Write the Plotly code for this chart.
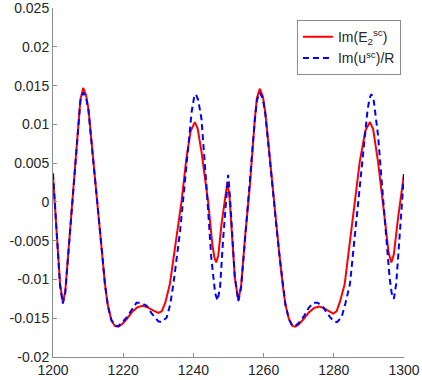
"""Im(E2^sc) versus Im(u^sc)/R over positions 1200-1300."""

import plotly.graph_objects as go

# Im(E_2^sc)
red_x = [
    1200, 1201, 1202, 1202.8, 1203.5, 1204.4, 1205.8, 1207.2, 1207.8, 1208.6,
    1209.4, 1210.1, 1211, 1212, 1213, 1214, 1214.8, 1215.6, 1216.6, 1217.6,
    1218.6, 1219.6, 1221, 1222.5, 1224, 1225.5, 1227, 1228.5, 1230, 1231,
    1232, 1233.3, 1235.2, 1236.6, 1238, 1239.2, 1240.4, 1241.2, 1242.3, 1244.2,
    1245.4, 1246, 1246.5, 1247.1, 1248, 1249, 1249.7, 1250.3, 1251.8, 1252.8,
    1253.6, 1254.7, 1256.1, 1257.5, 1258.1, 1258.9, 1259.8, 1260.5, 1261.5, 1262.5,
    1263.5, 1264.5, 1265.4, 1266.2, 1267.2, 1268.2, 1269, 1270, 1271.4, 1272.8,
    1274.3, 1275.8, 1277.2, 1278.6, 1279.8, 1280.8, 1281.8, 1283.1, 1285.5, 1287.4,
    1289, 1290.3, 1291.2, 1292.6, 1294.5, 1295.6, 1296.4, 1297.1, 1298.3, 1300,
]
red_y = [
    0.0033, -0.0035, -0.0105, -0.013, -0.0115, -0.0063, 0.0022, 0.0107, 0.0132, 0.0147,
    0.0138, 0.012, 0.0077, 0.003, -0.0018, -0.0066, -0.0106, -0.0133, -0.0152, -0.016,
    -0.0161, -0.0158, -0.0151, -0.0142, -0.0136, -0.0134, -0.0136, -0.014, -0.0143, -0.0141,
    -0.013, -0.0106, -0.0046, 0.0, 0.0056, 0.0091, 0.0103, 0.0095, 0.0065, 0.0,
    -0.0055, -0.0072, -0.0078, -0.0069, -0.0029, 0.0008, 0.0026, 0.0005, -0.00975, -0.0127,
    -0.0108, -0.0046, 0.0022, 0.0107, 0.0134, 0.0146, 0.0136, 0.0115, 0.0068, 0.0018,
    -0.0025, -0.0068, -0.0105, -0.0132, -0.0151, -0.016, -0.0161, -0.0158, -0.0151, -0.0143,
    -0.0137, -0.0135, -0.0137, -0.0141, -0.0144, -0.0141, -0.0128, -0.0106, -0.0021, 0.0052,
    0.0092, 0.0103, 0.0094, 0.0052, -0.0021, -0.0065, -0.0078, -0.0068, -0.0021, 0.0036,
]

# Im(u^sc)/R
blue_x = [
    1200, 1201, 1202, 1202.8, 1203.5, 1204.4, 1205.8, 1207.2, 1207.8, 1208.6,
    1209.4, 1210.1, 1211, 1212, 1213, 1214, 1214.8, 1215.6, 1216.6, 1217.6,
    1218.6, 1219.6, 1221, 1222.5, 1223.8, 1225, 1226.7, 1228, 1229, 1230,
    1231, 1232.4, 1233.4, 1234.3, 1236.2, 1238.1, 1239.5, 1240.2, 1240.7, 1241.4,
    1242.3, 1243.7, 1245.1, 1246.2, 1246.9, 1247.6, 1248.5, 1249.9, 1250.4, 1251.8,
    1252.8, 1253.6, 1254.7, 1256.1, 1257.5, 1258.1, 1258.9, 1259.8, 1260.5, 1261.5,
    1262.5, 1263.5, 1264.5, 1265.4, 1266.2, 1267.2, 1268.2, 1269, 1270, 1271.4,
    1272.8, 1274.2, 1275.4, 1276.8, 1278, 1279, 1280, 1280.9, 1282.2, 1283.3,
    1284.6, 1286.5, 1288.4, 1289.6, 1290.2, 1290.7, 1291.4, 1292.6, 1294.5, 1295.9,
    1296.5, 1297.1, 1297.8, 1298.8, 1300,
]
blue_y = [
    0.0037, -0.0035, -0.0108, -0.0131, -0.0117, -0.0065, 0.002, 0.0105, 0.013, 0.0141,
    0.0135, 0.0118, 0.0077, 0.003, -0.0018, -0.0066, -0.0106, -0.0133, -0.0152, -0.016,
    -0.016, -0.0156, -0.0149, -0.0138, -0.013, -0.013, -0.0134, -0.0143, -0.0149, -0.0154,
    -0.0155, -0.0149, -0.0132, -0.0106, -0.0038, 0.0056, 0.0116, 0.0135, 0.0139, 0.0131,
    0.0107, 0.0022, -0.0072, -0.0118, -0.0127, -0.011, -0.0046, 0.0035, 0.0008, -0.0097,
    -0.0128, -0.011, -0.0048, 0.002, 0.0105, 0.0131, 0.0141, 0.0133, 0.0113, 0.0068,
    0.0018, -0.0025, -0.0068, -0.0105, -0.0132, -0.0151, -0.016, -0.016, -0.0156, -0.0148,
    -0.0137, -0.013, -0.013, -0.0135, -0.0143, -0.0149, -0.0154, -0.0155, -0.0149, -0.0131,
    -0.0106, -0.0021, 0.0073, 0.0118, 0.0134, 0.0139, 0.013, 0.0086, -0.0021, -0.0098,
    -0.0118, -0.0125, -0.0105, -0.004, 0.0036,
]

x_ticks = [1200, 1220, 1240, 1260, 1280, 1300]
y_ticks = [-0.02, -0.015, -0.01, -0.005, 0, 0.005, 0.01, 0.015, 0.02, 0.025]
y_labels = ["-0.02", "-0.015", "-0.01", "-0.005", "0", "0.005", "0.01", "0.015", "0.02", "0.025"]

axis_style = {
    "showline": True,
    "linecolor": "#8c8c8c",
    "linewidth": 1,
    "ticks": "inside",
    "ticklen": 4,
    "tickcolor": "#8c8c8c",
    "showgrid": False,
    "zeroline": False,
    "automargin": False,
    "ticklabeloverflow": "allow",
    "tickfont": {"size": 14, "color": "#262626"},
}

fig = go.Figure()
fig.add_trace(
    go.Scatter(
        x=red_x, y=red_y, mode="lines",
        name="Im(E<sub>2</sub><sup>sc</sup>)",
        line={"color": "#ff0000", "width": 2},
    )
)
fig.add_trace(
    go.Scatter(
        x=blue_x, y=blue_y, mode="lines",
        name="Im(u<sup>sc</sup>)/R",
        line={"color": "#0000ff", "width": 2, "dash": "6px,4px"},
    )
)

fig.update_layout(
    width=422,
    height=380,
    margin={"l": 53, "r": 18, "t": 8, "b": 23},
    plot_bgcolor="white",
    paper_bgcolor="white",
    font={"family": "Liberation Sans, Arial, sans-serif", "size": 14, "color": "#262626"},
    xaxis={**axis_style, "range": [1200, 1300.001], "tickvals": x_ticks},
    yaxis={**axis_style, "range": [-0.02, 0.02501], "tickvals": y_ticks, "ticktext": y_labels},
    legend={
        "x": 0.695, "y": 0.965, "xanchor": "left", "yanchor": "top",
        "bgcolor": "white", "bordercolor": "#8c8c8c", "borderwidth": 1,
        "font": {"size": 14, "color": "#262626"},
        "itemwidth": 30,
        "tracegroupgap": 2,
    },
)

# drop the browser's default page margin so the figure sits at the corner
fig.write_html(
    "out.html",
    config={"displayModeBar": False},
    post_script="document.body.style.margin='0';",
)
